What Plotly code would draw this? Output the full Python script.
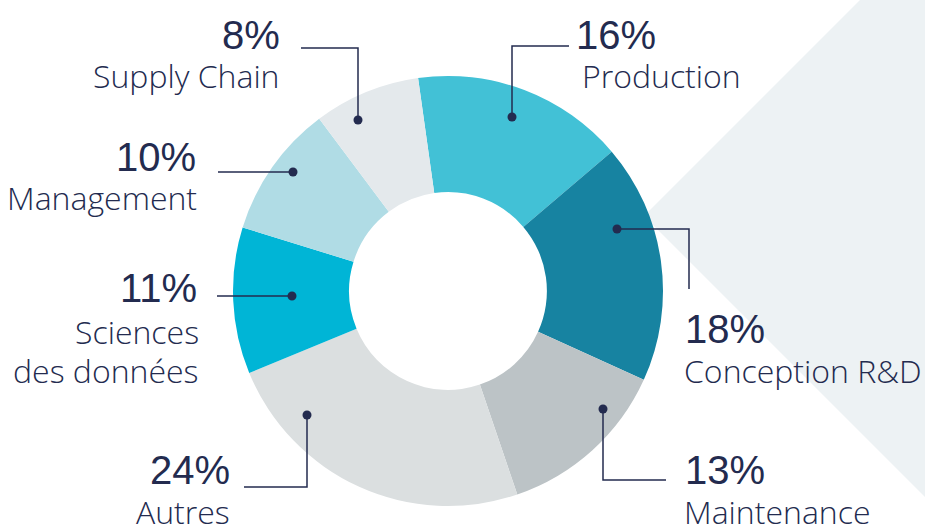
import plotly.graph_objects as go

categories = ["Production", "Conception R&D", "Maintenance", "Autres",
              "Sciences des données", "Management", "Supply Chain"]
values = [16, 18, 13, 24, 11, 10, 8]
pct_labels = ["16%", "18%", "13%", "24%", "11%", "10%", "8%"]
name_lines = [["Production"], ["Conception R&D"], ["Maintenance"], ["Autres"],
              ["Sciences", "des données"], ["Management"], ["Supply Chain"]]
colors = ["#42c1d6", "#1783a1", "#bcc3c6", "#dbdfe0", "#00b5d6", "#b0dce5", "#e4e9ec"]

W, H = 925, 527
NAVY = "#232b4f"
PCT_FONT = "Liberation Sans"
NAME_FONT = "Open Sans"

# layout (pixel coordinates): dot, leader path, text anchor, alignment
leaders = [
    dict(dot=(512, 117), path=[(512, 117), (512, 46), (569, 46)], pct=(574, 35), name=(580, 75), align="left"),
    dict(dot=(617, 229), path=[(617, 229), (689, 229), (689, 289)], pct=(683, 329), name=(682, 370), align="left"),
    dict(dot=(603, 409), path=[(603, 409), (603, 480), (666, 480)], pct=(683, 470), name=(682, 511), align="left"),
    dict(dot=(307, 415), path=[(307, 415), (307, 487), (244, 487)], pct=(232, 470), name=(232, 511), align="right"),
    dict(dot=(292, 296), path=[(292, 296), (217, 296)], pct=(199, 288), name=(201, 331), align="right"),
    dict(dot=(293, 172), path=[(293, 172), (218, 172)], pct=(198, 157), name=(199, 197), align="right"),
    dict(dot=(358, 120), path=[(358, 120), (358, 48), (301, 48)], pct=(282, 35), name=(282, 75), align="right"),
]

fig = go.Figure()

cx0, cx1 = 233, 663
cy0, cy1 = 76, 506
fig.add_trace(go.Pie(
    labels=categories, values=values, sort=False, direction="clockwise",
    rotation=-8, hole=0.46,
    marker=dict(colors=colors, line=dict(width=0)),
    textinfo="none", hoverinfo="label+percent", showlegend=False,
    domain=dict(x=[cx0 / W, cx1 / W], y=[1 - cy1 / H, 1 - cy0 / H]),
))
# empty scatter to create the pixel-space axes
fig.add_trace(go.Scatter(x=[], y=[], showlegend=False))

shapes = [dict(type="path", xref="x", yref="y", layer="below",
               path="M 644 216 L 860 0 L 925 0 L 925 497 Z",
               fillcolor="#edf2f4", line=dict(width=0))]
annotations = []
R = 4.5
for l in leaders:
    p = l["path"]
    d = "M " + " L ".join(f"{x} {y}" for x, y in p)
    shapes.append(dict(type="path", xref="x", yref="y", path=d,
                       line=dict(color=NAVY, width=1.5), layer="above"))
    dx, dy = l["dot"]
    shapes.append(dict(type="circle", xref="x", yref="y", x0=dx - R, x1=dx + R, y0=dy - R, y1=dy + R,
                       fillcolor=NAVY, line=dict(width=0), layer="above"))

for l, pct, names in zip(leaders, pct_labels, name_lines):
    xa = "left" if l["align"] == "left" else "right"
    annotations.append(dict(x=l["pct"][0], y=l["pct"][1], xref="x", yref="y", text=pct,
                            showarrow=False, xanchor=xa, yanchor="middle",
                            font=dict(family=PCT_FONT, size=40, color=NAVY)))
    for i, nm in enumerate(names):
        annotations.append(dict(x=l["name"][0], y=l["name"][1] + i * 39, xref="x", yref="y", text=nm,
                                showarrow=False, xanchor=xa, yanchor="middle",
                                font=dict(family=NAME_FONT, size=32, color=NAVY, weight=300)))

fig.update_layout(
    width=W, height=H, margin=dict(l=0, r=0, t=0, b=0, pad=0),
    paper_bgcolor="white", plot_bgcolor="rgba(0,0,0,0)",
    xaxis=dict(range=[0, W], visible=False, fixedrange=True),
    yaxis=dict(range=[H, 0], visible=False, fixedrange=True),
    shapes=shapes, annotations=annotations,
)
fig.write_html("out.html", config={"displayModeBar": False},
               post_script="document.body.style.margin='0';document.body.style.overflow='hidden';")
